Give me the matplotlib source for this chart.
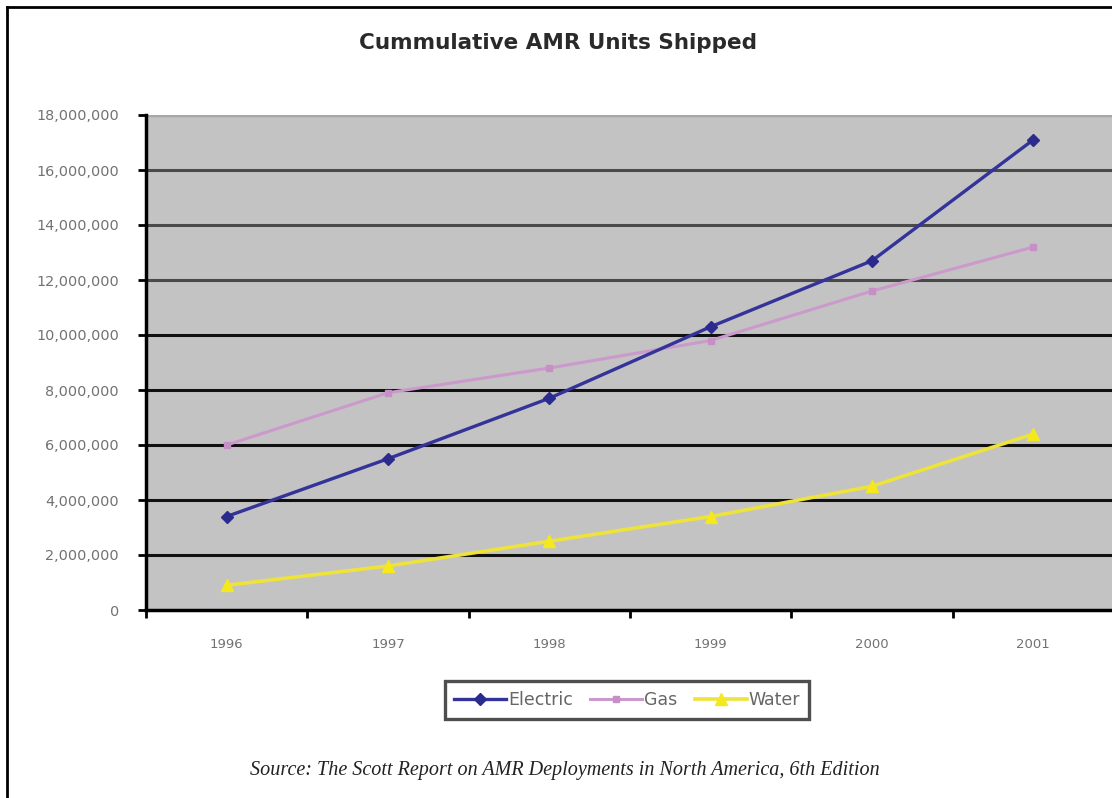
import matplotlib
matplotlib.use("Agg")
import matplotlib.pyplot as plt
from matplotlib.lines import Line2D
from matplotlib.ticker import FixedLocator, FixedFormatter

# Data
years = ["1996", "1997", "1998", "1999", "2000", "2001"]
electric = [3_400_000, 5_500_000, 7_700_000, 10_300_000, 12_700_000, 17_100_000]
gas = [6_000_000, 7_900_000, 8_800_000, 9_800_000, 11_600_000, 13_200_000]
water = [900_000, 1_600_000, 2_500_000, 3_400_000, 4_500_000, 6_400_000]
y_ticks = [0, 2_000_000, 4_000_000, 6_000_000, 8_000_000, 10_000_000,
           12_000_000, 14_000_000, 16_000_000, 18_000_000]
y_tick_labels = ["0", "2,000,000", "4,000,000", "6,000,000", "8,000,000",
                 "10,000,000", "12,000,000", "14,000,000", "16,000,000",
                 "18,000,000"]

W, H = 1112, 798
fig = plt.figure(figsize=(W / 100, H / 100), dpi=100)
fig.patch.set_facecolor("white")

# outer chart frame (top and left edges)
fig.add_artist(Line2D([7 / W, 1.01], [1 - 7 / H, 1 - 7 / H], transform=fig.transFigure,
                      color="black", lw=2))
fig.add_artist(Line2D([7 / W, 7 / W], [-0.01, 1 - 7 / H], transform=fig.transFigure,
                      color="black", lw=2))

left, right, bottom, top = 146 / W, 1114 / W, 1 - 610 / H, 1 - 115 / H
ax = fig.add_axes([left, bottom, right - left, top - bottom])
ax.set_facecolor("#c3c3c3")

x = list(range(len(years)))
ax.set_xlim(-0.5, len(years) - 0.5)
ax.set_ylim(0, 18_000_000)

# horizontal gridlines
for v in y_ticks[1:-1]:
    c = "#4a4a4a" if v >= 12_000_000 else "#111111"
    ax.axhline(v, color=c, lw=2.2, zorder=1.1)
ax.axhline(18_000_000, color="#a8a8a8", lw=2.5, zorder=1)

ax.plot(x, gas, color="#cc99cc", lw=2.2, marker="s", ms=4.5,
        markerfacecolor="#c68fc6", markeredgecolor="#c68fc6", label="Gas", zorder=3)
ax.plot(x, electric, color="#333399", lw=2.4, marker="D", ms=6.5,
        markerfacecolor="#2a2a8f", markeredgecolor="#2a2a8f", label="Electric", zorder=4)
ax.plot(x, water, color="#ede33a", lw=2.6, marker="^", ms=9,
        markerfacecolor="#f5e81c", markeredgecolor="#f5e81c", label="Water", zorder=3)

# spines
for s in ["top", "right"]:
    ax.spines[s].set_visible(False)
ax.spines["left"].set_color("black")
ax.spines["left"].set_linewidth(2.5)
ax.spines["bottom"].set_color("black")
ax.spines["bottom"].set_linewidth(2.5)

ax.yaxis.set_major_locator(FixedLocator(y_ticks))
ax.yaxis.set_major_formatter(FixedFormatter(y_tick_labels))
ax.xaxis.set_major_locator(FixedLocator([i - 0.5 for i in range(len(years) + 1)]))
ax.xaxis.set_major_formatter(FixedFormatter([""] * (len(years) + 1)))
ax.xaxis.set_minor_locator(FixedLocator(x))
ax.xaxis.set_minor_formatter(FixedFormatter(years))

ax.tick_params(axis="y", which="major", direction="out", length=5.5, width=2,
               color="black", pad=14, labelsize=10.4, labelcolor="#727272")
ax.tick_params(axis="x", which="major", direction="out", length=6, width=2,
               color="black")
ax.tick_params(axis="x", which="minor", length=0, pad=20, labelsize=9.5,
               labelcolor="#727272")
for lab in ax.get_yticklabels() + ax.get_xticklabels(minor=True):
    lab.set_family("DejaVu Sans")

fig.text(0.502, 1 - 43 / H, "Cummulative AMR Units Shipped", ha="center", va="center",
         fontsize=15.5, fontweight="bold", color="#2a2a2a", family="DejaVu Sans")

handles, labels = ax.get_legend_handles_labels()
order = [labels.index(n) for n in ["Electric", "Gas", "Water"]]
leg = fig.legend([handles[i] for i in order], [labels[i] for i in order],
                 loc="center", bbox_to_anchor=(627 / W, 1 - 700 / H), ncol=3,
                 frameon=True, fancybox=False, handlelength=3.0,
                 handletextpad=0.1, columnspacing=1.0, borderpad=0.55,
                 borderaxespad=0.0,
                 prop={"family": "DejaVu Sans", "size": 12.5})
leg.get_frame().set_edgecolor("#222222")
leg.get_frame().set_linewidth(2.4)
for t in leg.get_texts():
    t.set_color("#666666")

fig.text(0.508, 1 - 770 / H,
         "Source: The Scott Report on AMR Deployments in North America, 6th Edition",
         ha="center", va="center", fontsize=14.5, style="italic",
         family="Liberation Serif", color="#222222")

fig.savefig("out.png", dpi=100, facecolor="white")
